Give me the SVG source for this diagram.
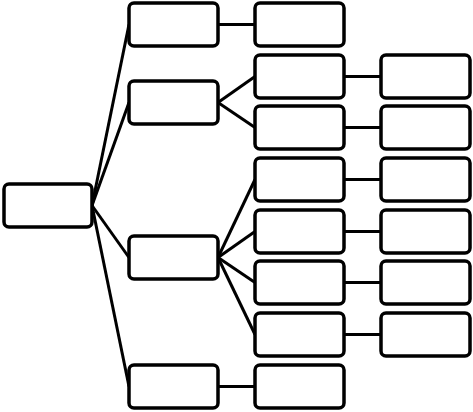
<svg xmlns="http://www.w3.org/2000/svg" width="473" height="412" viewBox="0 0 473 412">
<style>
.n{fill:#fff;stroke:#000;stroke-width:3.5}
.c{stroke:#000;stroke-width:3;fill:none}
</style>
<rect width="473" height="412" fill="#fff"/>
<g id="connectors" class="c">
<line x1="92" y1="205.5" x2="129" y2="24.5"/>
<line x1="92" y1="205.5" x2="129" y2="102.5"/>
<line x1="92" y1="205.5" x2="129" y2="257.5"/>
<line x1="92" y1="205.5" x2="129" y2="386.5"/>
<line x1="218" y1="24.5" x2="255" y2="24.5"/>
<line x1="218" y1="102.5" x2="255" y2="76.5"/>
<line x1="218" y1="102.5" x2="255" y2="127.5"/>
<line x1="218" y1="257.5" x2="255" y2="179.5"/>
<line x1="218" y1="257.5" x2="255" y2="231.5"/>
<line x1="218" y1="257.5" x2="255" y2="282.5"/>
<line x1="218" y1="257.5" x2="255" y2="334.5"/>
<line x1="218" y1="386.5" x2="255" y2="386.5"/>
<line x1="344" y1="76.5" x2="381" y2="76.5"/>
<line x1="344" y1="127.5" x2="381" y2="127.5"/>
<line x1="344" y1="179.5" x2="381" y2="179.5"/>
<line x1="344" y1="231.5" x2="381" y2="231.5"/>
<line x1="344" y1="282.5" x2="381" y2="282.5"/>
<line x1="344" y1="334.5" x2="381" y2="334.5"/>
</g>
<g id="root"><rect class="n" x="4" y="184" width="88" height="43" rx="5"/></g>
<g id="a"><rect class="n" x="129" y="3" width="89" height="43" rx="5"/></g>
<g id="b"><rect class="n" x="129" y="81" width="89" height="43" rx="5"/></g>
<g id="c"><rect class="n" x="129" y="236" width="89" height="43" rx="5"/></g>
<g id="d"><rect class="n" x="129" y="365" width="89" height="43" rx="5"/></g>
<g id="a1"><rect class="n" x="255" y="3" width="89" height="43" rx="5"/></g>
<g id="b1"><rect class="n" x="255" y="55" width="89" height="43" rx="5"/></g>
<g id="b2"><rect class="n" x="255" y="106" width="89" height="43" rx="5"/></g>
<g id="c1"><rect class="n" x="255" y="158" width="89" height="43" rx="5"/></g>
<g id="c2"><rect class="n" x="255" y="210" width="89" height="43" rx="5"/></g>
<g id="c3"><rect class="n" x="255" y="261" width="89" height="43" rx="5"/></g>
<g id="c4"><rect class="n" x="255" y="313" width="89" height="43" rx="5"/></g>
<g id="d1"><rect class="n" x="255" y="365" width="89" height="43" rx="5"/></g>
<g id="b1x"><rect class="n" x="381" y="55" width="89" height="43" rx="5"/></g>
<g id="b2x"><rect class="n" x="381" y="106" width="89" height="43" rx="5"/></g>
<g id="c1x"><rect class="n" x="381" y="158" width="89" height="43" rx="5"/></g>
<g id="c2x"><rect class="n" x="381" y="210" width="89" height="43" rx="5"/></g>
<g id="c3x"><rect class="n" x="381" y="261" width="89" height="43" rx="5"/></g>
<g id="c4x"><rect class="n" x="381" y="313" width="89" height="43" rx="5"/></g>
</svg>
